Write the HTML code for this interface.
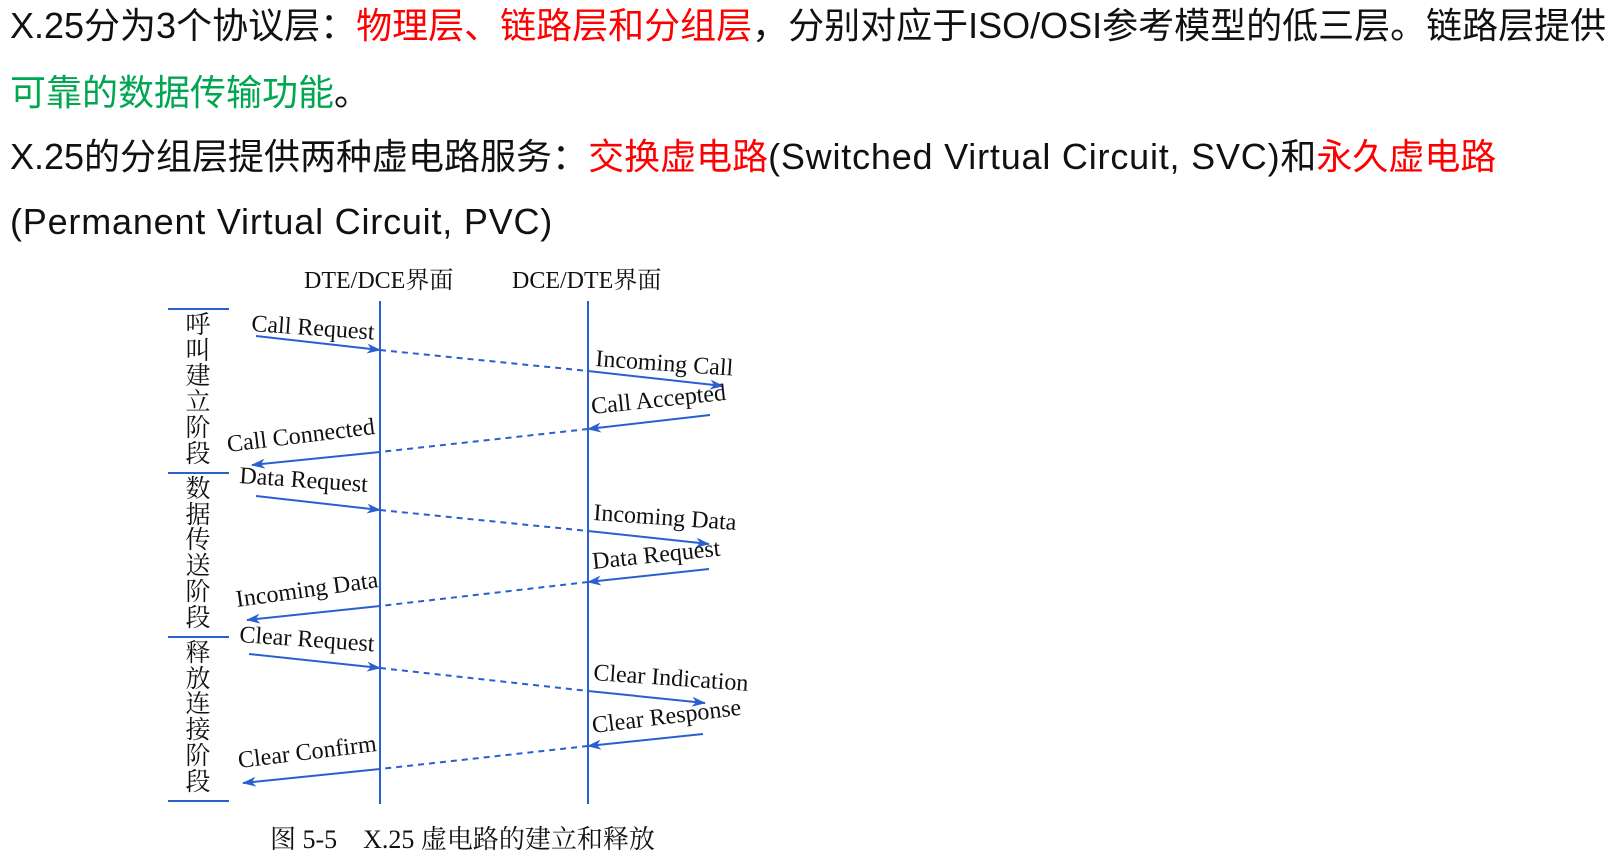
<!DOCTYPE html>
<html><head><meta charset="utf-8"><style>
html,body{margin:0;padding:0;background:#fff;width:1619px;height:859px;overflow:hidden}
.t{position:absolute;left:10px;white-space:nowrap;font-family:"Liberation Sans","Noto Sans CJK SC",sans-serif;font-size:36px;color:#111;line-height:1}
.r{color:#f00}.g{color:#00a650}.l{letter-spacing:0.8px}
</style></head><body>
<div class="t" style="top:8px">X.25分为3个协议层：<span class="r">物理层、链路层和分组层</span>，分别对应于ISO/OSI参考模型的低三层。链路层提供</div>
<div class="t" style="top:75px"><span class="g">可靠的数据传输功能</span>。</div>
<div class="t" style="top:139px">X.25的分组层提供两种虚电路服务：<span class="r">交换虚电路</span><span class="l">(Switched Virtual Circuit, SVC)</span>和<span class="r">永久虚电路</span></div>
<div class="t l" style="top:204px">(Permanent Virtual Circuit, PVC)</div>
<svg width="1619" height="859" style="position:absolute;left:0;top:0" xmlns="http://www.w3.org/2000/svg">
<defs><marker id="a" markerWidth="14" markerHeight="10" refX="13" refY="5" orient="auto" markerUnits="userSpaceOnUse"><path d="M0,0 L14,5 L0,10 L4,5Z" fill="#2a5fcf"/></marker></defs>
<g font-family="Liberation Serif,Noto Serif CJK SC,serif" fill="#111">
<text x="304" y="288" font-size="24">DTE/DCE界面</text>
<text x="512" y="288" font-size="24">DCE/DTE界面</text>
<text x="270" y="848" font-size="26">图 5-5　X.25 虚电路的建立和释放</text>
</g>
<g stroke="#2a5fcf" stroke-width="2" fill="none">
<line x1="380" y1="301" x2="380" y2="804"/><line x1="588" y1="301" x2="588" y2="804"/>
<line x1="168" y1="309" x2="229" y2="309"/><line x1="168" y1="473" x2="229" y2="473"/>
<line x1="168" y1="637" x2="229" y2="637"/><line x1="168" y1="801" x2="229" y2="801"/>
<g stroke-dasharray="6,5"><line x1="380" y1="350" x2="588" y2="371"/><line x1="588" y1="429" x2="380" y2="452"/>
<line x1="380" y1="510" x2="588" y2="531"/><line x1="588" y1="582" x2="380" y2="606"/>
<line x1="380" y1="668" x2="588" y2="691"/><line x1="588" y1="746" x2="380" y2="769"/></g>
<g marker-end="url(#a)">
<line x1="256" y1="336" x2="380" y2="350"/><line x1="588" y1="371" x2="723" y2="386"/>
<line x1="710" y1="415" x2="588" y2="429"/><line x1="380" y1="452" x2="252" y2="465"/>
<line x1="256" y1="496" x2="380" y2="510"/><line x1="588" y1="531" x2="709" y2="544"/>
<line x1="709" y1="569" x2="588" y2="582"/><line x1="380" y1="606" x2="247" y2="620"/>
<line x1="249" y1="654" x2="380" y2="668"/><line x1="588" y1="691" x2="705" y2="703"/>
<line x1="703" y1="734" x2="588" y2="746"/><line x1="380" y1="769" x2="243" y2="783"/>
</g></g>
<g font-family="Liberation Serif,serif" font-size="24" fill="#111">
<text transform="translate(251,331) rotate(4)">Call Request</text>
<text transform="translate(595,366) rotate(4)">Incoming Call</text>
<text transform="translate(592,414) rotate(-6)">Call Accepted</text>
<text transform="translate(228,452) rotate(-7)">Call Connected</text>
<text transform="translate(239,483) rotate(4)">Data Request</text>
<text transform="translate(593,520) rotate(4)">Incoming Data</text>
<text transform="translate(593,569) rotate(-6)">Data Request</text>
<text transform="translate(237,607) rotate(-8)">Incoming Data</text>
<text transform="translate(239,642) rotate(4)">Clear Request</text>
<text transform="translate(593,680) rotate(4)">Clear Indication</text>
<text transform="translate(593,733) rotate(-7)">Clear Response</text>
<text transform="translate(239,768) rotate(-7)">Clear Confirm</text>
</g>
<g font-family="Noto Serif CJK SC,serif" font-size="25" fill="#111" text-anchor="middle">
<text x="198" y="333">呼</text><text x="198" y="359">叫</text><text x="198" y="384">建</text><text x="198" y="410">立</text><text x="198" y="436">阶</text><text x="198" y="462">段</text>
<text x="198" y="497">数</text><text x="198" y="523">据</text><text x="198" y="548">传</text><text x="198" y="574">送</text><text x="198" y="600">阶</text><text x="198" y="626">段</text>
<text x="198" y="661">释</text><text x="198" y="687">放</text><text x="198" y="712">连</text><text x="198" y="738">接</text><text x="198" y="764">阶</text><text x="198" y="790">段</text>
</g>
</svg>
</body></html>
